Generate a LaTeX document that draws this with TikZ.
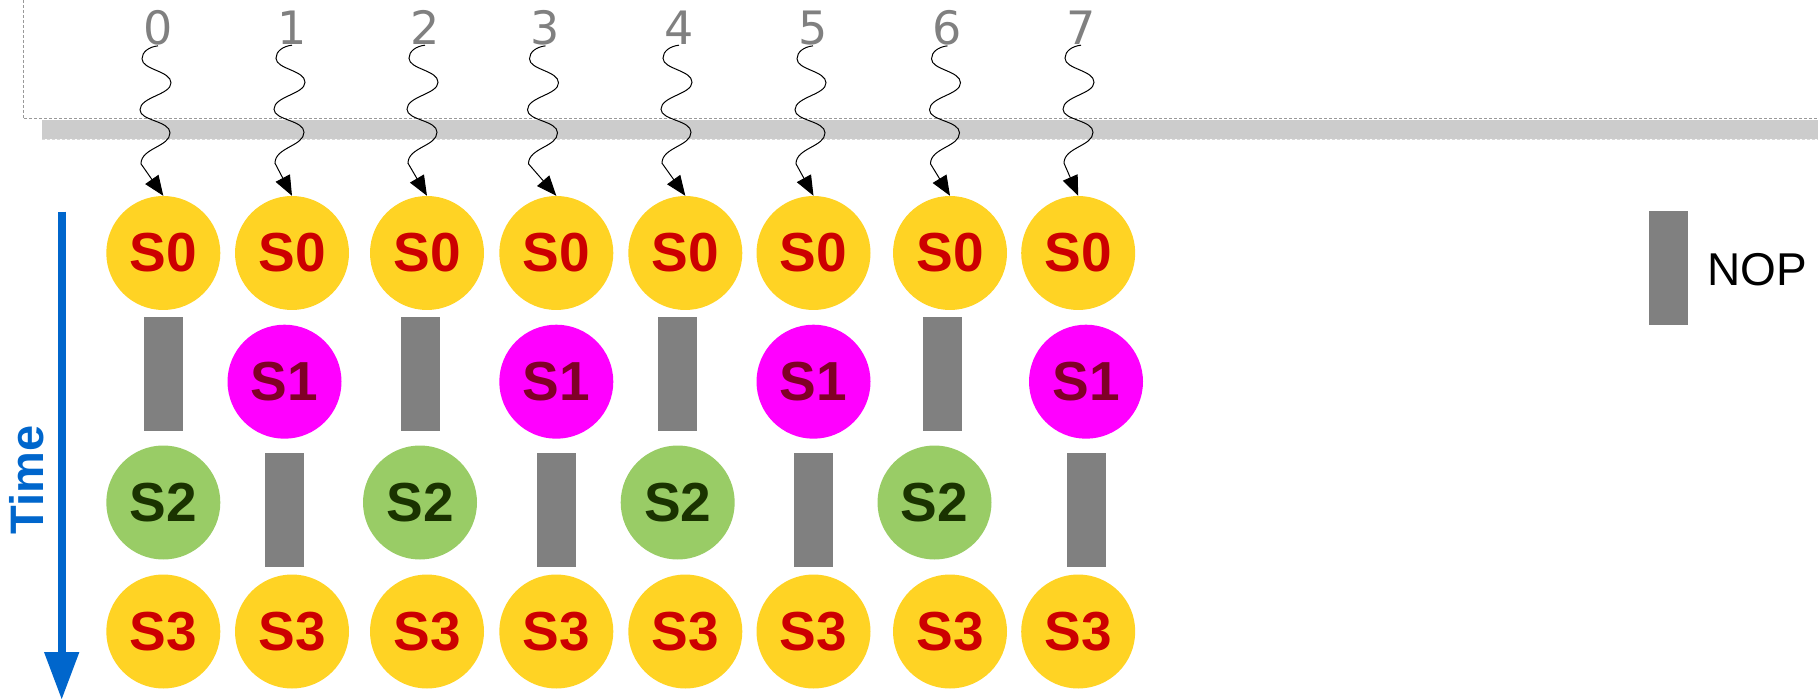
\documentclass[tikz,border=0pt]{standalone}
\usepackage{fontspec}
\setmainfont{Liberation Sans}
\newfontfamily\digitfont{DejaVu Sans}
\usetikzlibrary{arrows.meta}
\definecolor{yel}{HTML}{FFD324}
\definecolor{sred}{HTML}{CC0000}
\definecolor{mag}{HTML}{FF00FF}
\definecolor{mtext}{HTML}{800026}
\definecolor{grn}{HTML}{99CC66}
\definecolor{gtext}{HTML}{1A3300}
\definecolor{nopgray}{HTML}{808080}
\definecolor{idxgray}{HTML}{808080}
\definecolor{bandgray}{HTML}{CCCCCC}
\definecolor{dashgray}{HTML}{999999}
\definecolor{timeblue}{HTML}{0066CC}
\begin{document}
\begin{tikzpicture}[x=1pt,y=-1pt,
  stage/.style={circle, minimum size=114pt, inner sep=0pt, font=\fontsize{55}{60}\selectfont\bfseries},
  yst/.style={stage, fill=yel, text=sred},
  mst/.style={stage, fill=mag, text=mtext},
  gst/.style={stage, fill=grn, text=gtext},
  nopbox/.style={rectangle, fill=nopgray, minimum width=39pt, minimum height=114pt, inner sep=0pt},
  idx/.style={font=\digitfont\fontsize{46}{50}\selectfont, text=idxgray, inner sep=0pt, anchor=base},
  wavy/.style={line width=1pt, -{Triangle[length=20pt,width=16pt,fill=black]},
    to path={(\tikztostart)
      .. controls +(-9,1) and +(0,-7) .. ++(-16,13)
      .. controls +(0,11) and +(0,-12) .. ++(29,24)
      .. controls +(0,12) and +(0,-13) .. ++(-31,27)
      .. controls +(0,11) and +(0,-12) .. ++(30,23)
      .. controls +(0,14) and +(0,-16) .. ++(-29,31)
      -- (\tikztotarget) \tikztonodes}},
]
\useasboundingbox (0,0) rectangle (1818,700);
% frame lines and band
\fill[bandgray] (42,120) rectangle (1818,139);
\draw[dashgray, line width=1pt, dash pattern=on 3pt off 2pt] (23,0) -- (23,119) -- (1818,119);
\draw[white!85!black, line width=0.8pt, dash pattern=on 3pt off 2pt] (42,139) -- (1818,139);
% index labels
\foreach \x [count=\i from 0] in {158,292,425,545.5,679,813,947.5,1081}
  \node[idx] (n\i) at (\x,45) {\i};
% row S0
\foreach \x [count=\i from 0] in {163.3,292,427,556.3,685.3,813.5,950,1078.2}
  \node[yst] (a\i) at (\x,253) {S0};
% row S3
\foreach \x [count=\i from 0] in {163.3,292,427,556.3,685.3,813.5,950,1078.2}
  \node[yst] (d\i) at (\x,631.5) {S3};
% row S1
\foreach \x [count=\i from 0] in {284.5,556.3,813.5,1086}
  \node[mst] (b\i) at (\x,381.7) {S1};
% row S2
\foreach \x [count=\i from 0] in {163.3,420,677.7,934.5}
  \node[gst] (c\i) at (\x,502.5) {S2};
% NOP bars
\foreach \x [count=\i from 0] in {163.5,420.5,677.3,942.2}
  \node[nopbox] (p\i) at (\x,374) {};
\foreach \x [count=\i from 0] in {284.5,556.5,813.7,1086}
  \node[nopbox] (q\i) at (\x,510) {};
% wavy arrows
\foreach \i in {0,...,7}
  \draw[wavy] (n\i.south) to (a\i.north);
% time arrow
\coordinate (tstart) at (61.7,211.7);
\coordinate (tend) at (61.7,700);
\draw[timeblue, line width=8pt, -{Triangle[length=48pt,width=33pt]}] (tstart) -- (tend);
\node[rotate=90, text=timeblue, inner sep=0pt, font=\fontsize{47}{50}\selectfont\bfseries] (time) at (26.5,480) {Time};
% legend
\node[nopbox] (legnop) at (1668,268) {};
\node[inner sep=0pt, font=\fontsize{46}{50}\selectfont] (legtext) at (1757,270) {NOP};
\end{tikzpicture}
\end{document}
